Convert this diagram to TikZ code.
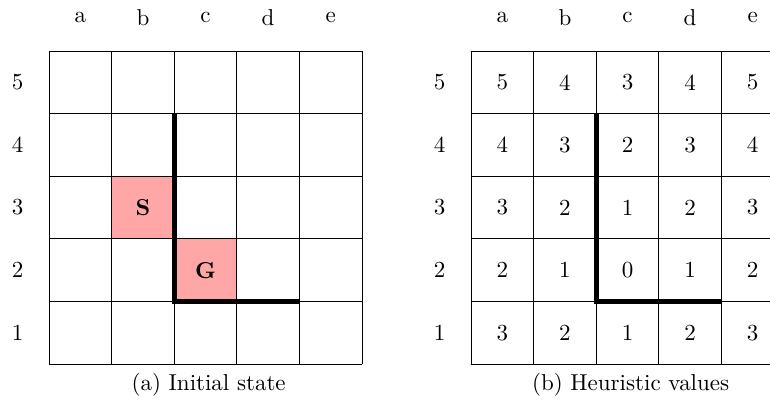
\documentclass[tikz,border=0pt]{standalone}
\usepackage{tikz}

\tikzset{
    wall/.style={line width=2.3pt},
    startgoal/.style={fill=red!35},
    cellgrid/.style={line width=0.4pt},
}

\begin{document}
\begin{tikzpicture}[every node/.style={font=\fontsize{10.45}{12.5}\selectfont}]
        \useasboundingbox (-0.783,-0.655) rectangle (11.517,5.815);
        % Initial state
        \begin{scope}[xshift=0cm]
            % Start and goal
            \fill[startgoal] (1,2) rectangle (2,3);
            \fill[startgoal] (2,1) rectangle (3,2);
            \node (start) at (1.5,2.5) {\textbf{S}};
            \node (goal) at (2.5,1.5) {\textbf{G}};
            % Grid
            \draw[cellgrid] (0,0) grid (5,5);
            % Labels
            \foreach \c/\x in {a/0.5,b/1.5,c/2.5,d/3.5,e/4.5} {
                    \node (colA-\c) at (\x,5.53) {\c};
                }
            \foreach \r in {1,...,5} {
                    \node (rowA-\r) at (-0.5,\r-0.5) {\r};
                }
            % Wall
            \draw[wall] (2,4) -- (2,1) -- (4,1);
            \node (capA) at (2.55,-0.33) {(a) Initial state};
        \end{scope}

        % Heuristic values
        \begin{scope}[xshift=6.741cm]
            % Grid
            \draw[cellgrid] (0,0) grid (5,5);
            % Labels
            \foreach \c/\x in {a/0.5,b/1.5,c/2.5,d/3.5,e/4.5} {
                    \node (colB-\c) at (\x,5.53) {\c};
                }
            \foreach \r in {1,...,5} {
                    \node (rowB-\r) at (-0.5,\r-0.5) {\r};
                }
            % Values
            \foreach \r/\vals in {5/{5,4,3,4,5},4/{4,3,2,3,4},3/{3,2,1,2,3},2/{2,1,0,1,2},1/{3,2,1,2,3}} {
                    \foreach \h [count=\c] in \vals {
                            \node (h-\c-\r) at (\c-0.5,\r-0.5) {\h};
                        }
                }
            % Wall
            \draw[wall] (2,4) -- (2,1) -- (4,1);
            \node (capB) at (2.55,-0.33) {(b) Heuristic values};
        \end{scope}
    \end{tikzpicture}
\end{document}
